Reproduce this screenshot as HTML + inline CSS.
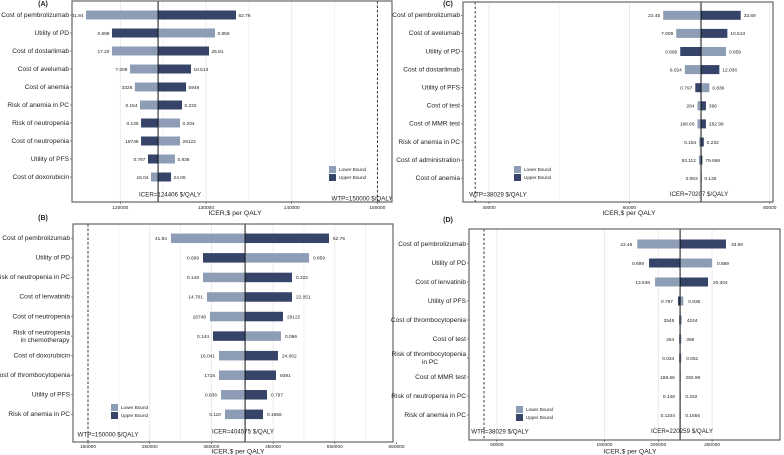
<!DOCTYPE html>
<html><head><meta charset="utf-8"><style>
html,body{margin:0;padding:0;background:#fff;}
svg{display:block;font-family:"Liberation Sans",Arial,sans-serif;}
</style></head><body>
<svg id="fig" width="784" height="455" viewBox="0 0 784 455"></svg>
<script>
// ---- Panel A data ----
const aParams=["Cost of pembrolizumab","Utility of PD","Cost of dostarlimab","Cost of avelumab","Cost of anemia","Risk of anemia in PC","Risk of neutropenia","Cost of neutropenia","Utility of PFS","Cost of doxorubicin"];
const aLeftICER=[116000,119030,119030,121130,121700,122300,122420,122420,123230,123580];
const aRightICER=[133500,131050,130350,128250,127670,127200,126970,126970,126380,125920];
const aLeftText=["41.84","0.699","17.20","7.009","3326","0.154","0.136","18748","0.797","16.04"];
const aRightText=["62.76","0.859","25.81","10.513","5949","0.232","0.204","28122","0.836","24.06"];
const aLeftLight=[true,false,true,true,true,true,false,false,false,true];
const aTicks=[120000,130000,140000,150000];
const aBase=124406, aWTP=150000;
// ---- Panel B data ----
const bParams=["Cost of pembrolizumab","Utility of PD","Risk of neutropenia in PC","Cost of lenvatinib","Cost of neutropenia","Risk of neutropenia|in chemotherapy","Cost of doxorubicin","Cost of thrombocytopenia","Utility of PFS","Risk of anemia in PC"];
const bLeftICER=[284500,336400,336400,342900,347700,352600,362300,362300,365600,372000];
const bRightICER=[540600,508200,480600,480600,466000,462800,457900,454700,440100,433600];
const bLeftText=["41.84","0.699","0.148","14.701","18748","0.144","16.041","1716","0.836","0.110"];
const bRightText=["62.76","0.859","0.222","22.051","28122","0.096","24.062","9391","0.797","0.1656"];
const bLeftLight=[true,false,true,true,true,false,true,true,true,true];
const bTicks=[150000,250000,350000,450000,550000,650000];
const bBase=404575, bWTP=150000;
// ---- Panel C data ----
const cParams=["Cost of pembrolizumab","Cost of avelumab","Utility of PD","Cost of dostarlimab","Utility of PFS","Cost of test","Cost of MMR test","Risk of anemia in PC","Cost of administration","Cost of anemia"];
const cLeftICER=[64814,66671,67243,67900,69386,69700,69700,69950,69900,70150];
const cRightICER=[75857,73957,73757,72814,71386,70900,70900,70600,70400,70260];
const cLeftText=["22.46","7.009","0.699","8.024","0.797","264","188.66","0.154","53.112","0.083"];
const cRightText=["33.69","10.513","0.859","12.036","0.836","396","282.99","0.232","79.668","0.125"];
const cLeftLight=[true,true,false,true,false,true,true,true,true,true];
const cTicks=[40000,60000,80000];
const cBase=70207, cWTP=38029;
// ---- Panel D data ----
const dParams=["Cost of pembrolizumab","Utility of PD","Cost of lenvatinib","Utility of PFS","Cost of thrombocytopenia","Cost of test","Risk of thrombocytopenia|in PC","Cost of MMR test","Risk of neutropenia in PC","Risk of anemia in PC"];
const dLeftICER=[180500,191400,197000,218300,219500,219500,219500,220000,220100,220100];
const dRightICER=[262900,249900,246200,223250,221800,221400,221400,220700,220500,220500];
const dLeftText=["22.46","0.699","13.536","0.797","2546","264","0.034","188.66","0.148","0.1104"];
const dRightText=["33.69","0.859","20.304","0.836","4244","396","0.051","282.99","0.222","0.1656"];
const dLeftLight=[true,false,true,false,false,false,false,false,false,false];
const dTicks=[50000,150000,200000,250000];
const dBase=220259, dWTP=38029;

const NS="http://www.w3.org/2000/svg";
const svg=document.getElementById('fig');
const LIGHT="#8d9db6", DARK="#374469";
function mk(tag,attrs,parent){const e=document.createElementNS(NS,tag);for(const k in attrs)e.setAttribute(k,attrs[k]);(parent||svg).appendChild(e);return e;}
function txt(parent,x,y,s,size,anchor,weight){const t=mk('text',{x:x,y:y,'font-size':size,'text-anchor':anchor||'middle','dominant-baseline':'middle',fill:'#222'},parent);if(weight)t.setAttribute('font-weight',weight);t.textContent=s;return t;}

function panel(id,letter,cfg,params,leftI,rightI,leftT,rightT,leftLight,ticks,base,wtp){
  const g=mk('g',{});
  
  
  const f=cfg.frame;
  const X=v=>cfg.px0+(v-cfg.v0)*cfg.k;
  // gridlines
  const gg=mk('g',{},g);
  
  
  for(let i=0;i<ticks.length;i++){
    const x=X(ticks[i]);
    if(x>f.x&&x<f.x+f.w) mk('line',{x1:x,x2:x,y1:f.y,y2:f.y+f.h,stroke:'#e6e6e6','stroke-width':0.8},gg);
    if(cfg.minor&&i<ticks.length-1){const xm=X((ticks[i]+ticks[i+1])/2);if(xm<f.x+f.w)mk('line',{x1:xm,x2:xm,y1:f.y,y2:f.y+f.h,stroke:'#efefef','stroke-width':0.8},gg);}
  }
  // bars
  const bw=cfg.barH, bx=X(base);
  for(let i=0;i<params.length;i++){
    const y=cfg.y0+i*cfg.dy;
    const xl=X(leftI[i]), xr=X(rightI[i]);
    const lb=mk('rect',{x:xl,y:y-bw/2,width:Math.max(0.6,bx-xl),height:bw,fill:leftLight[i]?LIGHT:DARK},g);
    
    
    const rb=mk('rect',{x:bx,y:y-bw/2,width:Math.max(0.6,xr-bx),height:bw,fill:leftLight[i]?DARK:LIGHT},g);
    
    
    const t1=txt(g,xl-cfg.gap,y+0.5,leftT[i],4.8,'end');
    
    
    const t2=txt(g,xr+cfg.gap,y+0.5,rightT[i],4.8,'start');
    
    
    // param label
    const parts=params[i].split('|');
    if(parts.length===1){
      const pl=txt(g,f.x-3,y,parts[0],6.6,'end');
      
      
    } else {
      const pl=txt(g,f.x-3,y-3.6,parts[0],6.6,'end');
      
      
      const pl2=txt(g,f.x-3-cfg.secondOff,y+4,parts[1],6.6,'middle');
      
      
    }
    mk('line',{x1:f.x-2,x2:f.x,y1:y,y2:y,stroke:'#444','stroke-width':0.6},g);
  }
  // base & wtp lines
  const bl=mk('line',{x1:bx,x2:bx,y1:f.y,y2:f.y+f.h,stroke:'#111','stroke-width':1},g);
  
  
  const wx=X(wtp);
  const wl=mk('line',{x1:wx,x2:wx,y1:f.y,y2:f.y+f.h,stroke:'#222','stroke-width':0.9,'stroke-dasharray':'2.5,2'},g);
  
  
  // frame
  const fr=mk('rect',{x:f.x,y:f.y,width:f.w,height:f.h,fill:'none',stroke:'#666','stroke-width':1.2},g);
  
  
  // ticks
  for(let i=0;i<ticks.length;i++){
    const x=X(ticks[i]);
    mk('line',{x1:x,x2:x,y1:f.y+f.h,y2:f.y+f.h+2,stroke:'#444','stroke-width':0.6},g);
    const tl=txt(g,x,cfg.tickY,String(ticks[i]),4.8,'middle');
    
    
  }
  const at=txt(g,cfg.title[0],cfg.title[1],'ICER,$ per QALY',6.8,'middle');
  
  
  const it=txt(g,cfg.icerT[0],cfg.icerT[1],'ICER='+base+' $/QALY',6.2,'middle');
  
  
  const wt=txt(g,cfg.wtpT[0],cfg.wtpT[1],'WTP='+wtp+' $/QALY',6.2,'middle');
  
  
  const pl=txt(g,cfg.letter[0],cfg.letter[1],'('+letter+')',7,'middle','bold');
  
  
  // legend
  const lg=mk('g',{},g);
  
  
  const L=cfg.legend;
  mk('rect',{x:L[0],y:L[1],width:7,height:7,fill:LIGHT},lg);
  mk('rect',{x:L[0],y:L[1]+8,width:7,height:7,fill:DARK},lg);
  const le1=txt(lg,L[0]+10,L[1]+3.8,'Lower Bound',4.6,'start');
  
  
  const le2=txt(lg,L[0]+10,L[1]+11.8,'Upper Bound',4.6,'start');
  
  
}

panel('a','A',{frame:{x:72,y:1,w:320,h:201},px0:120.3,v0:120000,k:0.00857,y0:15,dy:18,barH:9,gap:2.5,minor:true,
  tickY:207.5,title:[235,213],icerT:[170,195],wtpT:[362,199],letter:[43,4],legend:[329,166]},
  aParams,aLeftICER,aRightICER,aLeftText,aRightText,aLeftLight,aTicks,aBase,aWTP);
panel('b','B',{frame:{x:73,y:224,w:320,h:218},px0:88,v0:150000,k:0.000617,y0:238.3,dy:19.56,barH:9.5,gap:4,minor:true,secondOff:25,
  tickY:446.5,title:[238,451.5],icerT:[243,432],wtpT:[108,435],letter:[43,218],legend:[111,404]},
  bParams,bLeftICER,bRightICER,bLeftText,bRightText,bLeftLight,bTicks,bBase,bWTP);
panel('c','C',{frame:{x:463,y:2,w:310,h:200},px0:489,v0:40000,k:0.00702,y0:15.3,dy:18.1,barH:9,gap:3,minor:true,
  tickY:207.5,title:[629,213],icerT:[699,194.5],wtpT:[498,195],letter:[448,4],legend:[514,166]},
  cParams,cLeftICER,cRightICER,cLeftText,cRightText,cLeftLight,cTicks,cBase,cWTP);
panel('d','D',{frame:{x:469,y:229,w:311,h:211},px0:484,v0:38029,k:0.001076,y0:244,dy:19,barH:9,gap:5,minor:false,secondOff:36,
  tickY:444.5,title:[630,451.5],icerT:[682,431.5],wtpT:[500,432],letter:[448,220],legend:[516,406]},
  dParams,dLeftICER,dRightICER,dLeftText,dRightText,dLeftLight,dTicks,dBase,dWTP);
</script>
</body></html>
